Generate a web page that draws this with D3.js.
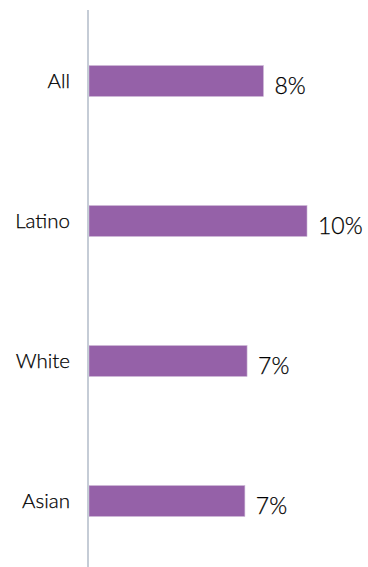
<!DOCTYPE html>
<html>
<head>
<meta charset="utf-8">
<script src="https://cdn.jsdelivr.net/npm/d3@7"></script>
<style>
  html, body { margin: 0; padding: 0; background: #fff; }
  svg { display: block; }
</style>
</head>
<body>
<svg id="chart" width="368" height="567"></svg>
<script>
const categories = ["All", "Latino", "White", "Asian"];
const values = [8.0, 10.0, 7.25, 7.15];
const valueLabels = ["8%", "10%", "7%", "7%"];

const svg = d3.select("#chart");
const W = 368, H = 567;
const x0 = 89;

const x = d3.scaleLinear().domain([0, 10]).range([x0, 307]);
const y = d3.scaleBand().domain(categories).range([11, 571]).paddingInner(0.78).paddingOuter(0.39);

const font = "Lato, 'Open Sans', sans-serif";

svg.selectAll("rect.bar")
  .data(categories)
  .join("rect")
  .attr("class", "bar")
  .attr("x", x(0))
  .attr("y", d => y(d))
  .attr("width", (d, i) => x(values[i]) - x(0))
  .attr("height", y.bandwidth())
  .attr("fill", "#9561a8")
  .attr("stroke", "#c9b2d3")
  .attr("stroke-width", 0.6);

// axis line
svg.append("line")
  .attr("x1", 88).attr("x2", 88)
  .attr("y1", 10).attr("y2", H)
  .attr("stroke", "#c5ccd6")
  .attr("stroke-width", 2);

// category labels
svg.selectAll("text.cat")
  .data(categories)
  .join("text")
  .attr("class", "cat")
  .attr("x", 70)
  .attr("y", d => y(d) + y.bandwidth() / 2)
  .attr("dy", "0.35em")
  .attr("text-anchor", "end")
  .attr("font-family", font)
  .attr("font-weight", 300)
  .attr("font-size", 20.5)
  .attr("fill", "#000")
  .attr("stroke", "#000")
  .attr("stroke-width", 0.25)
  .text(d => d);

// value labels
svg.selectAll("text.val")
  .data(categories)
  .join("text")
  .attr("class", "val")
  .attr("x", (d, i) => x(values[i]) + 11)
  .attr("y", d => y(d) + y.bandwidth() / 2 + 4.5)
  .attr("dy", "0.35em")
  .attr("text-anchor", "start")
  .attr("font-family", font)
  .attr("font-weight", 300)
  .attr("font-size", 23)
  .attr("fill", "#000")
  .attr("stroke", "#000")
  .attr("stroke-width", 0.25)
  .text((d, i) => valueLabels[i]);
</script>
</body>
</html>
